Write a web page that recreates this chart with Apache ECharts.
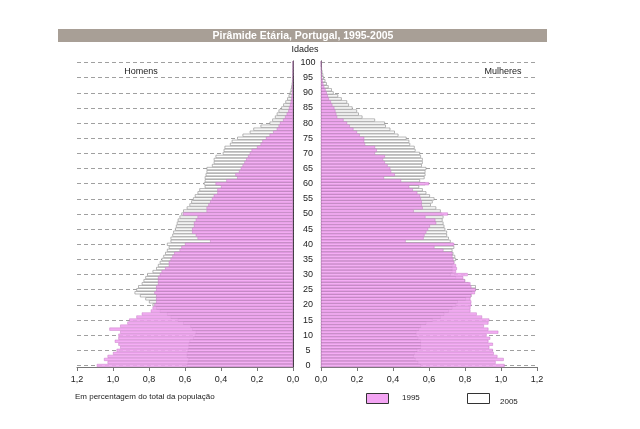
<!DOCTYPE html>
<html>
<head>
<meta charset="utf-8">
<script src="https://cdn.jsdelivr.net/npm/echarts@6/dist/echarts.min.js"></script>
<style>
  html, body { margin: 0; padding: 0; background: #fff; }
  #chart { width: 640px; height: 429px; }
</style>
</head>
<body>
<div id="chart"></div>
<script>
// idades 0..100
var ages = [];
for (var a = 0; a <= 100; a++) ages.push(String(a));

// Homens 1995 (% do total)
var homens1995 = [
  1.09, 1.03, 1.05, 1.03, 1.00, 0.98, 0.96, 0.97, 0.99, 0.97,
  0.97, 0.96, 1.02, 0.96, 0.92, 0.91, 0.87, 0.84, 0.79, 0.78,
  0.77, 0.76, 0.76, 0.76, 0.77, 0.76, 0.76, 0.75, 0.75, 0.75,
  0.74, 0.73, 0.71, 0.69, 0.69, 0.68, 0.67, 0.66, 0.63, 0.62,
  0.60, 0.46, 0.53, 0.54, 0.56, 0.56, 0.55, 0.55, 0.54, 0.53,
  0.61, 0.48, 0.48, 0.47, 0.46, 0.45, 0.44, 0.42, 0.42, 0.40,
  0.43, 0.37, 0.31, 0.32, 0.30, 0.29, 0.28, 0.27, 0.26, 0.25,
  0.24, 0.23, 0.20, 0.18, 0.17, 0.15, 0.13, 0.11, 0.09, 0.08,
  0.072, 0.055, 0.044, 0.035, 0.026, 0.022, 0.017, 0.013, 0.010, 0.008,
  0.006, 0.005, 0.004, 0.003, 0.002, 0.002, 0.001, 0.001, 0.001, 0.0005,
  0.0005
];
// Homens 2005
var homens2005 = [
  0.59, 0.585, 0.58, 0.59, 0.59, 0.585, 0.58, 0.58, 0.575, 0.555,
  0.545, 0.54, 0.56, 0.57, 0.61, 0.64, 0.68, 0.70, 0.74, 0.76,
  0.78, 0.80, 0.82, 0.85, 0.88, 0.87, 0.86, 0.84, 0.83, 0.82,
  0.81, 0.78, 0.76, 0.75, 0.74, 0.73, 0.72, 0.71, 0.70, 0.69,
  0.70, 0.68, 0.68, 0.67, 0.665, 0.655, 0.65, 0.645, 0.64, 0.63,
  0.62, 0.61, 0.59, 0.575, 0.565, 0.555, 0.545, 0.53, 0.52, 0.49,
  0.495, 0.49, 0.49, 0.485, 0.48, 0.48, 0.45, 0.44, 0.44, 0.43,
  0.39, 0.385, 0.38, 0.35, 0.34, 0.31, 0.28, 0.24, 0.22, 0.18,
  0.13, 0.115, 0.10, 0.09, 0.08, 0.065, 0.054, 0.042, 0.032, 0.024,
  0.017, 0.013, 0.010, 0.007, 0.005, 0.004, 0.003, 0.002, 0.001, 0.001,
  0.001
];
// Mulheres 1995
var mulheres1995 = [
  1.02, 0.97, 1.015, 0.98, 0.96, 0.955, 0.935, 0.955, 0.93, 0.94,
  0.92, 0.985, 0.93, 0.905, 0.93, 0.935, 0.895, 0.865, 0.83, 0.83,
  0.835, 0.835, 0.83, 0.835, 0.855, 0.86, 0.835, 0.83, 0.80, 0.79,
  0.815, 0.75, 0.755, 0.75, 0.74, 0.735, 0.73, 0.73, 0.68, 0.63,
  0.74, 0.47, 0.57, 0.575, 0.585, 0.595, 0.605, 0.64, 0.635, 0.58,
  0.705, 0.515, 0.565, 0.56, 0.56, 0.555, 0.55, 0.535, 0.51, 0.49,
  0.60, 0.445, 0.35, 0.41, 0.39, 0.385, 0.37, 0.355, 0.345, 0.355,
  0.30, 0.31, 0.30, 0.245, 0.24, 0.24, 0.215, 0.20, 0.18, 0.16,
  0.145, 0.125, 0.09, 0.085, 0.08, 0.074, 0.063, 0.055, 0.044, 0.038,
  0.032, 0.025, 0.018, 0.013, 0.009, 0.006, 0.004, 0.003, 0.002, 0.001,
  0.001
];
// Mulheres 2005
var mulheres2005 = [
  0.555, 0.54, 0.525, 0.515, 0.52, 0.535, 0.555, 0.555, 0.555, 0.54,
  0.53, 0.53, 0.545, 0.555, 0.585, 0.62, 0.665, 0.685, 0.71, 0.73,
  0.75, 0.76, 0.805, 0.835, 0.84, 0.86, 0.86, 0.82, 0.80, 0.75,
  0.72, 0.73, 0.73, 0.73, 0.74, 0.75, 0.745, 0.735, 0.73, 0.74,
  0.735, 0.72, 0.71, 0.70, 0.70, 0.69, 0.685, 0.68, 0.675, 0.68,
  0.67, 0.665, 0.64, 0.61, 0.62, 0.63, 0.605, 0.585, 0.565, 0.545,
  0.58, 0.55, 0.575, 0.58, 0.58, 0.585, 0.56, 0.565, 0.565, 0.555,
  0.55, 0.525, 0.52, 0.495, 0.49, 0.475, 0.43, 0.41, 0.385, 0.36,
  0.355, 0.30, 0.23, 0.21, 0.20, 0.175, 0.155, 0.145, 0.115, 0.095,
  0.07, 0.06, 0.042, 0.032, 0.024, 0.016, 0.012, 0.008, 0.005, 0.003,
  0.002
];

var pink = '#f3a4f3';
var pinkBorder = '#c070c0';
var font = 'Liberation Sans, Arial, sans-serif';

function pct(v) {
  return v.toFixed(1).replace('.', ',');
}

var chart = echarts.init(document.getElementById('chart'), null, { renderer: 'canvas' });

var xAxisBase = {
  type: 'value',
  min: 0,
  max: 1.2,
  interval: 0.2,
  axisLine: { show: true, lineStyle: { color: '#777', width: 1 } },
  axisTick: { show: true, length: 4, lineStyle: { color: '#777' } },
  axisLabel: { formatter: pct, color: '#222', fontSize: 9, fontFamily: font, margin: 8 },
  splitLine: { show: false }
};

var splitDash = {
  show: true,
  interval: 4,
  alignWithLabel: true,
  lineStyle: { type: [4, 3], color: '#a0a0a0', width: 1 }
};

// 2005 por trás (branco com contorno), 1995 por cima, um pouco translúcido
var style2005 = { color: '#fff', borderColor: '#888', borderWidth: 0.6 };
var style1995 = { color: pink, borderColor: pinkBorder, borderWidth: 0.5, opacity: 0.88 };

var option = {
  animation: false,
  grid: [
    { left: 77, width: 216, top: 61, height: 306 },
    { left: 321, width: 216, top: 61, height: 306 }
  ],
  xAxis: [
    Object.assign({}, xAxisBase, { gridIndex: 0, inverse: true }),
    Object.assign({}, xAxisBase, { gridIndex: 1 })
  ],
  yAxis: [
    {
      type: 'category',
      gridIndex: 0,
      position: 'right',
      data: ages,
      axisLine: { show: true, lineStyle: { color: '#333', width: 1 } },
      axisTick: { show: false },
      axisLabel: {
        interval: 4,
        align: 'center',
        margin: 15,
        color: '#222',
        fontSize: 9,
        fontFamily: font
      },
      splitLine: splitDash
    },
    {
      type: 'category',
      gridIndex: 1,
      position: 'left',
      data: ages,
      axisLine: { show: true, lineStyle: { color: '#333', width: 1 } },
      axisTick: { show: false },
      axisLabel: { show: false },
      splitLine: splitDash
    }
  ],
  series: [
    {
      name: '2005', type: 'bar', xAxisIndex: 0, yAxisIndex: 0,
      data: homens2005, barCategoryGap: '0%', barGap: '-100%', z: 2,
      itemStyle: style2005
    },
    {
      name: '1995', type: 'bar', xAxisIndex: 0, yAxisIndex: 0,
      data: homens1995, barCategoryGap: '0%', barGap: '-100%', z: 3,
      itemStyle: style1995
    },
    {
      name: '2005', type: 'bar', xAxisIndex: 1, yAxisIndex: 1,
      data: mulheres2005, barCategoryGap: '0%', barGap: '-100%', z: 2,
      itemStyle: style2005
    },
    {
      name: '1995', type: 'bar', xAxisIndex: 1, yAxisIndex: 1,
      data: mulheres1995, barCategoryGap: '0%', barGap: '-100%', z: 3,
      itemStyle: style1995
    }
  ],
  graphic: [
    { type: 'rect', left: 58, top: 29, shape: { width: 489, height: 13 }, style: { fill: '#a89f96' } },
    { type: 'text', x: 303, y: 36, style: { text: 'Pirâmide Etária, Portugal, 1995-2005', fill: '#fff', font: 'bold 10.5px ' + font, textAlign: 'center', textVerticalAlign: 'middle' } },
    { type: 'text', x: 305, y: 50, style: { text: 'Idades', fill: '#222', font: '9px ' + font, textAlign: 'center', textVerticalAlign: 'middle' } },
    { type: 'text', x: 141, y: 72, style: { text: 'Homens', fill: '#222', font: '9px ' + font, textAlign: 'center', textVerticalAlign: 'middle' } },
    { type: 'text', x: 503, y: 72, style: { text: 'Mulheres', fill: '#222', font: '9px ' + font, textAlign: 'center', textVerticalAlign: 'middle' } },
    { type: 'text', x: 75, y: 397, style: { text: 'Em percentagem do total da população', fill: '#222', font: '8px ' + font, textAlign: 'left', textVerticalAlign: 'middle' } },
    { type: 'rect', left: 366, top: 393, shape: { width: 22, height: 10 }, style: { fill: pink, stroke: '#333', lineWidth: 1 } },
    { type: 'text', x: 402, y: 398, style: { text: '1995', fill: '#222', font: '8px ' + font, textAlign: 'left', textVerticalAlign: 'middle' } },
    { type: 'rect', left: 467, top: 393, shape: { width: 22, height: 10 }, style: { fill: '#fff', stroke: '#333', lineWidth: 1 } },
    { type: 'text', x: 500, y: 402, style: { text: '2005', fill: '#222', font: '8px ' + font, textAlign: 'left', textVerticalAlign: 'middle' } }
  ]
};

chart.setOption(option);
</script>
</body>
</html>
